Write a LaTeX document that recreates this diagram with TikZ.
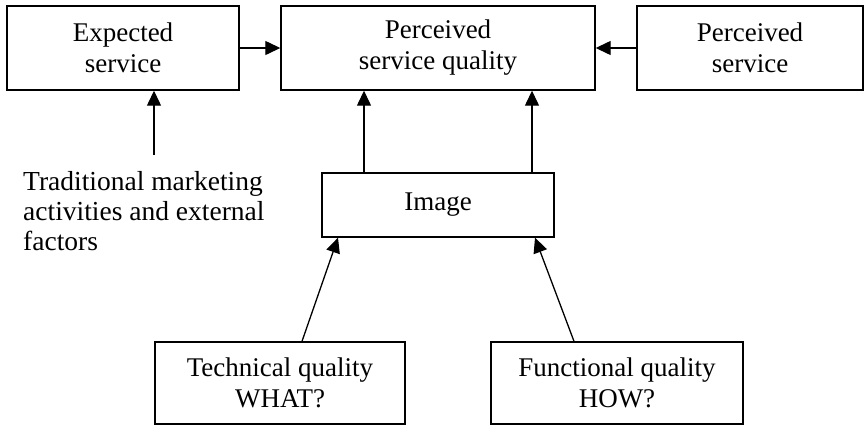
\documentclass[tikz,border=0pt]{standalone}
\usepackage{fontspec}
\setmainfont{Liberation Serif}
\usetikzlibrary{arrows.meta}

\begin{document}
\begin{tikzpicture}[x=1pt, y=-1pt,
    box/.style={draw, line width=1.4pt, inner sep=0pt, align=center,
        font=\fontsize{27}{31}\selectfont},
    arr/.style={line width=1.3pt, -{Triangle[length=15pt, width=14pt]}}]
    \useasboundingbox (0,0) rectangle (865,426);
    \node[box, minimum width=232pt, minimum height=84pt] (exp) at (123,48) {Expected\\service};
    \node[box, minimum width=314pt, minimum height=84pt] (psq) at (438,48) {Perceived\\service quality};
    \node[box, minimum width=226pt, minimum height=84pt] (ps) at (750,48) {Perceived\\service};
    \node[box, minimum width=232pt, minimum height=64pt] (img) at (438,205) {Image};
    \node[box, minimum width=250pt, minimum height=82pt] (tech) at (280,383) {Technical quality\\WHAT?};
    \node[box, minimum width=252pt, minimum height=82pt] (func) at (617,383) {Functional quality\\HOW?};
    \node[anchor=north west, inner sep=0pt, align=left, font=\fontsize{27.5}{30}\selectfont]
        (trad) at (23,171) {Traditional marketing\\activities and external\\factors};
    \coordinate (tradtop) at (154,155);
    \draw[arr] (exp) -- (psq);
    \draw[arr] (ps) -- (psq);
    \draw[arr] (tradtop) -- (tradtop |- exp.south);
    \draw[arr] ([xshift=-74pt]img.north) -- ([xshift=-74pt]img.north |- psq.south);
    \draw[arr] ([xshift=94pt]img.north) -- ([xshift=94pt]img.north |- psq.south);
    \draw[arr] ([xshift=22pt]tech.north) -- ([xshift=-100pt]img.south);
    \draw[arr] ([xshift=-43pt]func.north) -- ([xshift=97pt]img.south);
\end{tikzpicture}
\end{document}
